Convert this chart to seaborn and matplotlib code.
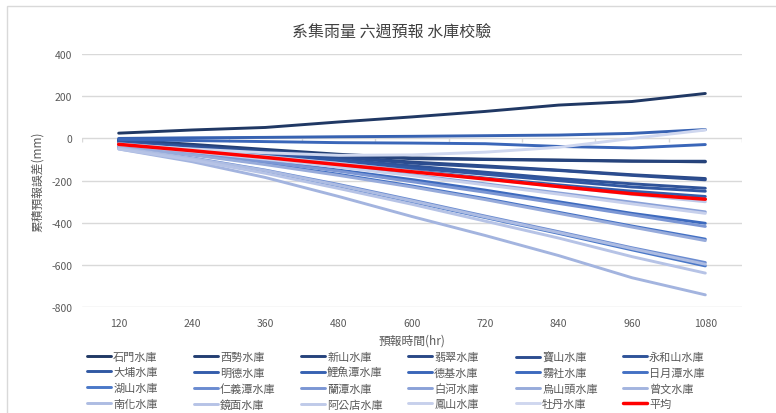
import matplotlib
matplotlib.use("Agg")
import matplotlib.pyplot as plt
import seaborn as sns
import pandas as pd
import numpy as np
from matplotlib.lines import Line2D
from matplotlib.patches import Rectangle

# ---------------- data ----------------
hours = ["120", "240", "360", "480", "600", "720", "840", "960", "1080"]

reservoirs = ["石門水庫", "西勢水庫", "新山水庫", "翡翠水庫", "寶山水庫", "永和山水庫",
              "大埔水庫", "明德水庫", "鯉魚潭水庫", "德基水庫", "霧社水庫", "日月潭水庫",
              "湖山水庫", "仁義潭水庫", "蘭潭水庫", "白河水庫", "烏山頭水庫", "曾文水庫",
              "南化水庫", "鏡面水庫", "阿公店水庫", "鳳山水庫", "牡丹水庫"]

shimen = [25, 40, 52, 78, 102, 128, 158, 175, 213]
xishi = [-5, -28, -52, -75, -92, -98, -102, -107, -111]
xinshan = [-8, -32, -58, -80, -96, -100, -104, -108, -108]
feicui = [-10, -35, -60, -85, -112, -130, -150, -172, -190]
baoshan = [-12, -38, -64, -90, -117, -135, -152, -175, -196]
yongheshan = [-15, -40, -70, -100, -130, -160, -190, -215, -236]
dapu = [-20, -45, -75, -105, -140, -170, -200, -230, -250]
mingde = [-25, -55, -85, -118, -152, -188, -220, -250, -275]
liyutan = [0, 3, 5, 8, 10, 13, 16, 24, 42]
deji = [-5, -10, -15, -20, -22, -25, -38, -45, -29]
wushe = [-30, -65, -105, -150, -195, -245, -300, -355, -402]
riyuetan = [-35, -75, -120, -170, -225, -285, -350, -415, -477]
hushan = [-45, -95, -155, -225, -300, -375, -450, -528, -604]
renyitan = [-42, -92, -150, -218, -292, -368, -442, -518, -588]
lantan = [-30, -68, -110, -155, -205, -255, -308, -362, -417]
baihe = [-28, -60, -95, -132, -172, -215, -258, -302, -348]
wushantou = [-35, -78, -124, -175, -230, -290, -355, -420, -484]
zengwen = [-50, -110, -185, -275, -370, -460, -555, -660, -741]
nanhua = [-44, -94, -152, -222, -296, -372, -446, -522, -596]
jingmian = [-50, -102, -165, -237, -312, -392, -472, -560, -638]
agongdian = [-25, -52, -85, -118, -155, -192, -228, -265, -300]
fengshan = [-28, -62, -98, -136, -176, -220, -264, -310, -355]
mudan = [-30, -50, -68, -80, -78, -65, -42, 0, 40]
average = [-28, -58, -90, -124, -158, -192, -228, -262, -288]

series_values = [shimen, xishi, xinshan, feicui, baoshan, yongheshan,
                 dapu, mingde, liyutan, deji, wushe, riyuetan,
                 hushan, renyitan, lantan, baihe, wushantou, zengwen,
                 nanhua, jingmian, agongdian, fengshan, mudan]

colors = ["#203864", "#233e72", "#26437c", "#294886", "#2c4d90", "#2f5399",
          "#3158a3", "#345dab", "#3762b2", "#3a66b9", "#3d6abe", "#4471c4",
          "#4a78c8", "#6a8bd0", "#7b96d4", "#8aa1d8", "#97abdb", "#a3b4df",
          "#adbce2", "#b6c3e6", "#bfcae9", "#c7d0ec", "#cfd7ef"]
avg_label = "平均"
avg_color = "#ff0000"

# ---------------- build table ----------------
rows = []
for name, vals in zip(reservoirs, series_values):
    for h, v in zip(hours, vals):
        rows.append({"hour": h, "value": v, "series": name})
df = pd.DataFrame(rows)
df_avg = pd.DataFrame({"hour": hours, "value": average})

# ---------------- style ----------------
sns.set_theme(style="white")
plt.rcParams["font.family"] = ["Noto Sans CJK TC", "DejaVu Sans"]
plt.rcParams["axes.unicode_minus"] = False

fig = plt.figure(figsize=(7.76, 4.14), dpi=100)
W, H = 776, 414
ax = fig.add_axes([82 / W, 1 - 308.3 / H, (742 - 82) / W, (308.3 - 55) / H])

palette = dict(zip(reservoirs, colors))
sns.lineplot(data=df, x="hour", y="value", hue="series", hue_order=reservoirs,
             palette=palette, linewidth=2.1, legend=False, ax=ax, sort=False)
sns.lineplot(data=df_avg, x="hour", y="value", color=avg_color,
             linewidth=2.5, legend=False, ax=ax, sort=False)

ax.set_xlim(-0.5, len(hours) - 0.5)
ax.set_ylim(-800, 400)
ax.set_yticks(np.arange(-800, 401, 200))
ax.yaxis.grid(True, color="#d9d9d9", linewidth=1.0)
ax.set_axisbelow(True)
for s in ax.spines.values():
    s.set_visible(False)

# category boundary tick marks on the zero line
ax.vlines(np.arange(-0.5, len(hours), 1.0), -18, 0, colors="#d9d9d9",
          linewidth=1.0, zorder=0)

ax.tick_params(axis="both", length=0, labelsize=7.5, colors="#595959")
ax.tick_params(axis="x", pad=8)
ax.tick_params(axis="y", pad=7)
ax.set_xlabel("預報時間(hr)", fontsize=8.5, color="#595959", labelpad=4)
ax.set_ylabel("累積預報誤差(mm)", fontsize=8.5, color="#595959", labelpad=5)

fig.text(392 / W, 1 - 33 / H, "系集雨量 六週預報 水庫校驗", ha="center", va="center",
         fontsize=11.5, color="#404040")

# chart border
fig.patches.append(Rectangle((7 / W, -0.01), 1.0, 1 - 7 / H + 0.01,
                             transform=fig.transFigure, fill=False,
                             edgecolor="#d9d9d9", linewidth=1.0))

# ---------------- legend (row-wise, 6 columns) ----------------
handles = [Line2D([0], [0], color=c, lw=2.1) for c in colors]
handles.append(Line2D([0], [0], color=avg_color, lw=2.5))
labels = reservoirs + [avg_label]
col_x = [87, 194, 301, 408, 516, 623]
for j in range(6):
    hj = handles[j::6]
    lj = labels[j::6]
    fig.legend(hj, lj, loc="upper left",
               bbox_to_anchor=(col_x[j] / W, 1 - 352.5 / H),
               frameon=False, fontsize=8, handlelength=2.2,
               handletextpad=0.15, labelspacing=0.48, borderpad=0,
               borderaxespad=0, labelcolor="#595959")

fig.savefig("out.png", dpi=100)
